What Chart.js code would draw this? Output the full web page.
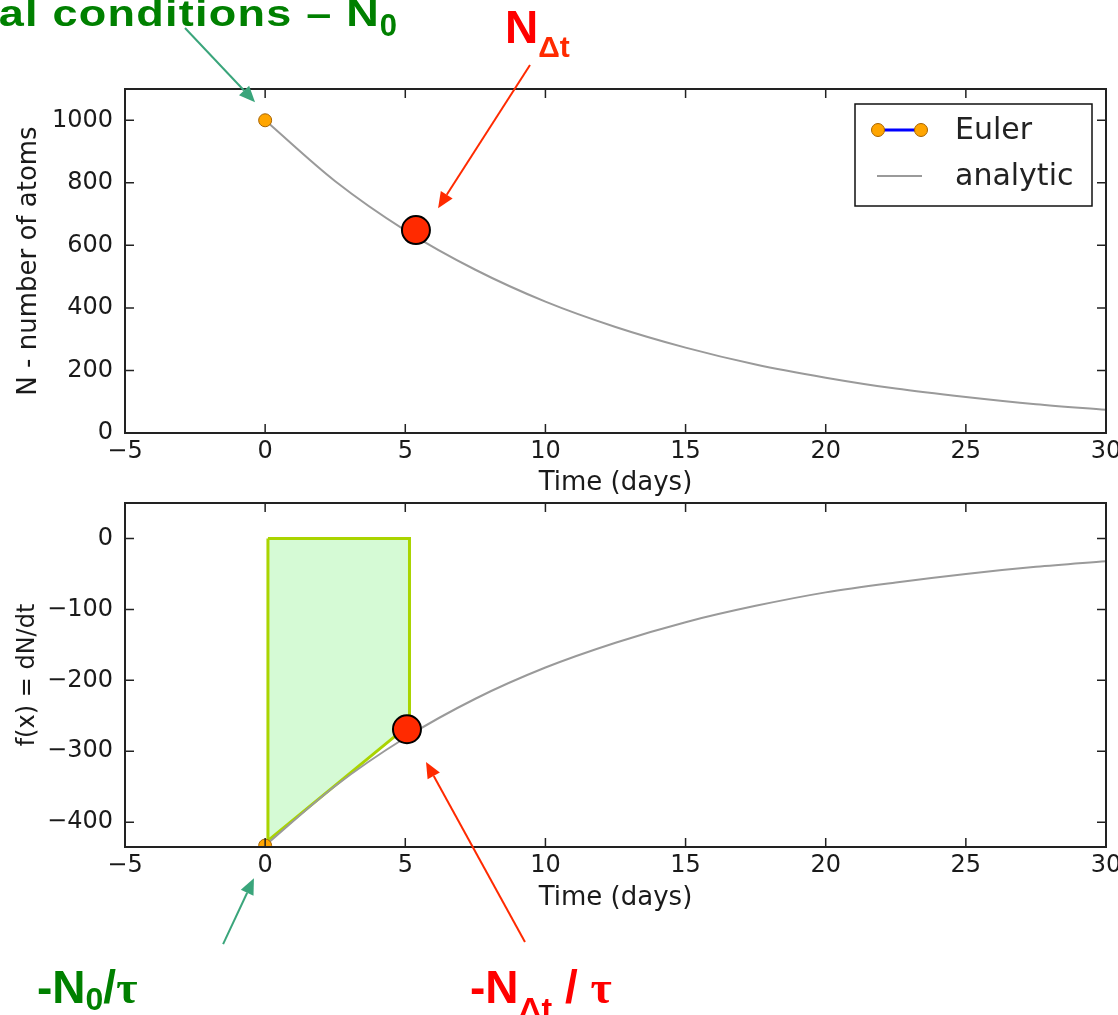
<!DOCTYPE html>
<html>
<head>
<meta charset="utf-8">
<title>Euler step for radioactive decay</title>
<script src="https://cdn.jsdelivr.net/npm/chart.js@4.4.1/dist/chart.umd.min.js"></script>
<style>
  html, body { margin: 0; padding: 0; background: #fff; }
  body { width: 1118px; height: 1015px; position: relative; overflow: hidden; }
  .wrap { position: absolute; left: 0; width: 1140px; }
  #topWrap { top: 0; height: 500px; }
  #botWrap { top: 470px; height: 545px; }
  .note { position: absolute; font-family: "Liberation Sans", Arial, sans-serif; font-weight: bold;
          line-height: 1; white-space: nowrap; }
  .green { color: #008000; }
  .red { color: #ff0000; }
  .sub { position: relative; }
  .tau { font-family: "Liberation Serif", serif; }
  .stretch { display: inline-block; transform: scaleX(1.25); transform-origin: right; letter-spacing: 1px; }
</style>
</head>
<body>
<div class="wrap" id="topWrap"><canvas id="topChart"></canvas></div>
<div class="wrap" id="botWrap"><canvas id="botChart"></canvas></div>

<div class="note green" style="right:721px; top:-4px; font-size:36px;"><span class="stretch">Initial conditions – N</span><span class="sub" style="font-size:31px; top:10px;">0</span></div>
<div class="note red" style="left:505px; top:4px; font-size:46px;">N<span class="sub" style="font-size:30px; top:14px; color:#ff2a00;">Δt</span></div>
<div class="note green" style="left:37px; top:964px; font-size:46px;">-N<span class="sub" style="font-size:32px; top:7px;">0</span>/<span class="tau">τ</span></div>
<div class="note red" style="left:470px; top:964px; font-size:46px;">-N<span class="sub" style="font-size:32px; top:17px;">Δt</span> / <span class="tau">τ</span></div>

<script>
// time samples (days) along the analytic curves
const times = [0, 2.5, 5, 7.5, 10, 12.5, 15, 17.5, 20, 22.5, 25, 27.5, 30];
const nAnalytic = [1000, 805, 648, 522, 420, 339, 273, 219, 177, 142, 115, 92, 74];
const fAnalytic = [-433, -349, -281, -226, -182, -147, -118, -95, -76, -62, -50, -40, -32];

// Euler: starting point and the first step
const eulerT = [0];
const eulerN = [1000];
const eulerF = [-433];
const stepT = [5.38];
const stepN = [649];
const stepFT = [5.06];
const stepF = [-269];

// shaded region of the first step
const areaT = [0.1, 5.15, 5.15, 0.1, 0.1];
const areaF = [0, 0, -262, -426, 0];

// tick labels
const xTicks = [-5, 0, 5, 10, 15, 20, 25, 30];
const nTicks = [0, 200, 400, 600, 800, 1000];
const fTicks = [-400, -300, -200, -100, 0];

// arrows in data units: [t, value] tail -> head
const topArrows = [
  { from: [-2.86, 1295], to: [-0.36, 1058], color: '#3aa57b' },
  { from: [9.45, 1177], to: [6.17, 719], color: '#ff2a00' }
];
const botArrows = [
  { from: [-1.5, -572], to: [-0.4, -479], color: '#3aa57b' },
  { from: [9.27, -569], to: [5.74, -315], color: '#ff2a00' }
];

Chart.defaults.font.family = '"DejaVu Sans", sans-serif';
Chart.defaults.color = '#1a1a1a';
Chart.defaults.animation = false;

const pts = (xs, ys) => xs.map((v, i) => ({ x: v, y: ys[i] }));
const minus = v => String(v).replace('-', '\u2212');

function xAxis(h) {
  return {
    type: 'linear', min: -5, max: 30,
    grid: { display: false, drawTicks: false },
    border: { display: false },
    afterBuildTicks: s => { s.ticks = xTicks.map(v => ({ value: v })); },
    afterFit: s => { s.height = h; },
    ticks: { font: { size: 24 }, padding: 4, callback: minus, maxRotation: 0, autoSkip: false },
    title: { display: true, text: 'Time (days)', font: { size: 26 }, padding: { top: 0, bottom: 1 } }
  };
}

function yAxis(min, max, ticks, text, size, pad) {
  return {
    type: 'linear', min: min, max: max,
    grid: { display: false, drawTicks: false },
    border: { display: false },
    afterBuildTicks: s => { s.ticks = ticks.map(v => ({ value: v })); },
    afterFit: s => { s.width = 125; },
    ticks: { font: { size: 24 }, padding: 12, callback: minus, autoSkip: false },
    title: { display: true, text: text, font: { size: size }, padding: { top: pad, bottom: 0 } }
  };
}

// axes box with inward tick marks on all four sides
const frame = {
  id: 'frame',
  afterDatasetsDraw(chart) {
    const { ctx, chartArea: a, scales: { x, y } } = chart;
    const len = 9;
    ctx.save();
    ctx.strokeStyle = '#222';
    ctx.lineWidth = 1.5;
    ctx.beginPath();
    x.ticks.forEach(t => {
      const px = x.getPixelForValue(t.value);
      ctx.moveTo(px, a.bottom); ctx.lineTo(px, a.bottom - len);
      ctx.moveTo(px, a.top); ctx.lineTo(px, a.top + len);
    });
    y.ticks.forEach(t => {
      const py = y.getPixelForValue(t.value);
      ctx.moveTo(a.left, py); ctx.lineTo(a.left + len, py);
      ctx.moveTo(a.right, py); ctx.lineTo(a.right - len, py);
    });
    ctx.stroke();
    ctx.lineWidth = 2;
    ctx.strokeRect(a.left, a.top, a.right - a.left, a.bottom - a.top);
    ctx.restore();
  }
};

function arrowPlugin(items) {
  return {
    id: 'arrows',
    afterDraw(chart) {
      const { ctx, scales: { x, y } } = chart;
      items.forEach(a => {
        const x0 = x.getPixelForValue(a.from[0]), y0 = y.getPixelForValue(a.from[1]);
        const x1 = x.getPixelForValue(a.to[0]), y1 = y.getPixelForValue(a.to[1]);
        const ang = Math.atan2(y1 - y0, x1 - x0);
        const head = 16, half = 7;
        const bx = x1 - head * Math.cos(ang), by = y1 - head * Math.sin(ang);
        ctx.save();
        ctx.strokeStyle = a.color;
        ctx.fillStyle = a.color;
        ctx.lineWidth = 2;
        ctx.beginPath(); ctx.moveTo(x0, y0); ctx.lineTo(bx, by); ctx.stroke();
        ctx.beginPath();
        ctx.moveTo(x1, y1);
        ctx.lineTo(bx + half * Math.sin(ang), by - half * Math.cos(ang));
        ctx.lineTo(bx - half * Math.sin(ang), by + half * Math.cos(ang));
        ctx.closePath();
        ctx.fill();
        ctx.restore();
      });
    }
  };
}

// boxed legend in the upper right corner of the plot
const boxLegend = {
  id: 'boxLegend',
  afterDraw(chart) {
    const { ctx, chartArea: a } = chart;
    const w = 237, h = 102;
    const x0 = a.right - 14 - w, y0 = a.top + 15;
    const sets = chart.data.datasets.filter(d => d.inLegend);
    ctx.save();
    ctx.fillStyle = '#fff';
    ctx.fillRect(x0, y0, w, h);
    ctx.strokeStyle = '#111';
    ctx.lineWidth = 1.5;
    ctx.strokeRect(x0, y0, w, h);
    ctx.font = '30px "DejaVu Sans"';
    ctx.textBaseline = 'middle';
    sets.forEach((d, i) => {
      const ry = y0 + 26 + i * 46;
      ctx.strokeStyle = d.borderColor;
      ctx.lineWidth = d.borderWidth;
      ctx.beginPath(); ctx.moveTo(x0 + 22, ry); ctx.lineTo(x0 + 67, ry); ctx.stroke();
      if (d.pointRadius > 0) {
        [x0 + 23, x0 + 66].forEach(cx => {
          ctx.beginPath();
          ctx.arc(cx, ry, d.pointRadius, 0, 2 * Math.PI);
          ctx.fillStyle = d.pointBackgroundColor;
          ctx.fill();
          ctx.lineWidth = 1;
          ctx.strokeStyle = d.pointBorderColor;
          ctx.stroke();
        });
      }
      ctx.fillStyle = '#222';
      ctx.fillText(d.label, x0 + 100, ry + 1);
    });
    ctx.restore();
  }
};

const redDot = { pointRadius: 14, pointBackgroundColor: '#ff2a00', pointBorderColor: '#000', pointBorderWidth: 2, showLine: false };
const eulerStyle = { showLine: true, borderColor: '#0000ff', borderWidth: 3, pointRadius: 6.5,
  pointBackgroundColor: '#ffa500', pointBorderColor: '#a86400', pointBorderWidth: 1, clip: 0, inLegend: true };
const curveStyle = { showLine: true, borderColor: '#9a9a9a', borderWidth: 2, pointRadius: 0,
  cubicInterpolationMode: 'monotone', inLegend: true };

new Chart(document.getElementById('topChart'), {
  type: 'scatter',
  data: {
    datasets: [
      Object.assign({ label: 'step', data: pts(stepT, stepN) }, redDot),
      Object.assign({ label: 'Euler', data: pts(eulerT, eulerN) }, eulerStyle),
      Object.assign({ label: 'analytic', data: pts(times, nAnalytic) }, curveStyle)
    ]
  },
  options: {
    responsive: true,
    maintainAspectRatio: false,
    events: [],
    layout: { padding: { top: 89, right: 34, bottom: 0, left: 0 } },
    plugins: { legend: { display: false }, tooltip: { enabled: false } },
    scales: {
      x: xAxis(67),
      y: yAxis(0, 1100, nTicks, 'N - number of atoms', 26, 14)
    }
  },
  plugins: [frame, boxLegend, arrowPlugin(topArrows)]
});

new Chart(document.getElementById('botChart'), {
  type: 'scatter',
  data: {
    datasets: [
      Object.assign({ label: 'step', data: pts(stepFT, stepF) }, redDot),
      Object.assign({ label: 'Euler', data: pts(eulerT, eulerF) }, eulerStyle),
      Object.assign({ label: 'analytic', data: pts(times, fAnalytic) }, curveStyle),
      { label: 'area', data: pts(areaT, areaF), showLine: true, fill: 'shape', tension: 0,
        backgroundColor: '#d5fad5', borderColor: '#aad400', borderWidth: 3, pointRadius: 0 }
    ]
  },
  options: {
    responsive: true,
    maintainAspectRatio: false,
    events: [],
    layout: { padding: { top: 33, right: 34, bottom: 100, left: 0 } },
    plugins: { legend: { display: false }, tooltip: { enabled: false } },
    scales: {
      x: xAxis(68),
      y: yAxis(-435, 50, fTicks, 'f(x) = dN/dt', 24, 13)
    }
  },
  plugins: [frame, arrowPlugin(botArrows)]
});
</script>
</body>
</html>
